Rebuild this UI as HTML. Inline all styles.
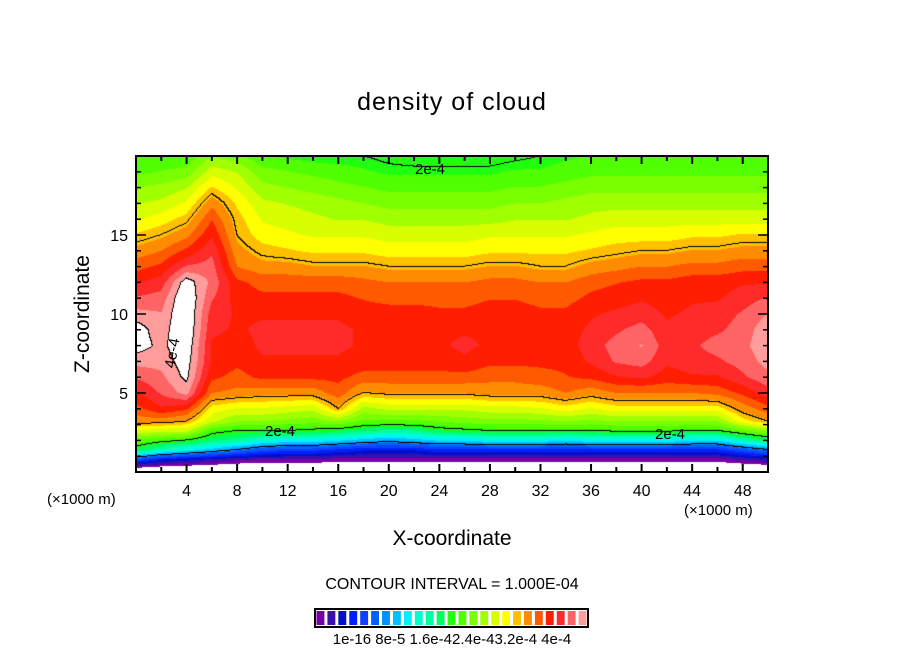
<!DOCTYPE html>
<html><head><meta charset="utf-8"><style>
body{margin:0;background:#fff;}
#wrap{position:relative;width:904px;height:654px;font-family:"Liberation Sans",sans-serif;color:#000;overflow:hidden}
.t{position:absolute;white-space:nowrap}
</style></head><body>
<div id="wrap">
<div class="t" style="left:0;width:904px;text-align:center;top:88px;font-size:25px;letter-spacing:1px">density of cloud</div>
<canvas id="cv" width="632" height="316" style="position:absolute;left:136px;top:156px"></canvas>
<svg id="ax" width="904" height="654" style="position:absolute;left:0;top:0"></svg>
<div class="t" style="left:-5px;top:300px;width:180px;text-align:center;font-size:21px;transform:rotate(-90deg);transform-origin:90px 14px">Z-coordinate</div>
<div class="t" style="left:0;width:904px;text-align:center;top:527px;font-size:21px">X-coordinate</div>
<div class="t" style="left:47px;top:491px;font-size:15px">(×1000 m)</div>
<div class="t" style="left:684px;top:502px;font-size:15px">(×1000 m)</div>
<div class="t" style="left:0;width:904px;text-align:center;top:576px;font-size:16px">CONTOUR INTERVAL = 1.000E-04</div>
<div class="t" style="left:0;width:904px;text-align:center;top:631px;font-size:15px">1e-16 8e-5 1.6e-42.4e-43.2e-4 4e-4</div>
</div>
<script>
const xs=[0,2,4,6,8,10,12,14,16,18,20,22,24,26,28,30,32,34,36,38,40,42,44,46,48,50];
const zs=[20,19,18,17,16,15,14,13,12,11,10,9,8,7,6,5,4,3.2,2.6,2,1.4,0.8,0];
// values in units of 1e-5, one array per x column, top to bottom
const c00=[21,22,24,25.5,27,29,31,33,35,37,39,41,41,39,37,35,33,31,27,22,19,8,-4];
const c02=[21,22.5,24.5,26,28,30,32,34,36,37.5,38.5,39,39.5,39,38,37,35,31,26,21,16,5,-4];
const c04=[21,23,25.5,27.5,29.5,31.5,34,37,41,42,42,42,41.5,41,40.5,39,34,30,26,20,14,4,-4];
const c06=[24,26.5,29,31.5,33.5,35,36.5,37.5,38,37,36,35.5,35,35,34,32,28,26,21,18,12,3,-4];
const c08=[23,25.5,27,28.5,29.5,30,31,32,34,34.5,35,35,34.5,34,33,31.5,27,24,20,17,10,2,-4];
const c10=[21,23,24.5,26,27,28,29.5,31,33,34,35,35.5,35.5,35,34,31,27,24,20,15,8,1.5,-4];
const c12=[20.5,22.5,24,25.5,26.5,27.5,29,31,33,34,35,35.5,35.5,35,34,31,26.5,23.5,20,14,7,1.5,-4];
const c14=[20,22,23.5,25,26,27,28.5,30.5,33,34,35,35.5,35.5,35,34,31,26,23,19.5,14,7,1.5,-4];
const c16=[20,21.5,23,24.5,25.5,27,28.5,30.5,33,34,35,35.5,35.5,35,34,33,30,24,19,13,6,1,-4];
const c18=[20,21,22.5,24,25.5,27,28.5,30.5,32.5,33.5,34.5,35,35,34.5,33,30,25,22,18,12,5,1,-4];
const c20=[19.5,20.5,22,23.5,25,26.5,28,30,32,33,34.5,35,35,34.5,33,30.5,26,22,17,11,5,1,-4];
const c22=[19,20.5,22,23.5,25,26.5,28,30,32,33,34.5,35,35,34.5,33,30.5,26,22,17.5,12,5,1,-4];
const c24=[19,20.5,22,23.5,25,26.5,28,30,32,33,34,35,35,34.5,33,30.5,26,22.5,19,13,6,1,-4];
const c26=[19,20.5,22,23.5,25,26.5,28,30,32,33,34,35,35.5,35,33,30.5,26,23,19.5,13,6,1,-4];
const c28=[19,20.5,22,23.5,25,27,28.5,30.5,32.5,33.5,34.5,35,35,34,32.5,31,26.5,23.5,20,14,6,1,-4];
const c30=[19.5,21,22.5,24,25.5,27,28.5,30.5,32.5,33.5,34.5,35,35,34,32.5,31,26.5,23.5,20,14,6,1,-4];
const c32=[20,21,22.5,24,25.5,27,28.5,30,32,33,34,34.5,34.5,34,33,31,27,23.5,20,14,6,1,-4];
const c34=[20.5,21.5,23,24.5,25.5,27,28.5,30,32,33,34,34.5,34.5,34,33.5,32,28,24,20,13,6,1,-4];
const c36=[21,22,23.5,25,26,27.5,29,31,33,34,35,35.5,36,35.5,34,31,27,23.5,20,14,6,1,-4];
const c38=[21,22,23.5,25,26.5,28,29.5,31.5,33.5,34.5,35.5,36.5,37.5,37,35,32,28,24,20.5,14,6,1,-4];
const c40=[21,22,23.5,25,26.5,28,30,32,34,35,36,37.5,38.5,37.5,35.5,32,28,24,20.5,14,6,1,-4];
const c42=[21,22,23.5,25,26.5,28,30,32,34,34.5,35,35.5,36,35.5,34.5,32,28,24,20.5,14,6,1,-4];
const c44=[21,22,23.5,25,26.5,28.5,30.5,32.5,34.5,35,35.5,36,36.5,36,35,32,28,24,20,13,6,1,-4];
const c46=[21,22,23.5,25,26.5,28.5,30.5,32.5,34.5,35,36,36.5,37.5,36.5,35,32.5,28,24,20,13,6,1,-4];
const c48=[21,22,23.5,25,26.5,29,31,33,35,36,37,37.5,38,37.5,36.5,34,31,28,22,16,8,2,-4];
const c50=[21,22,23.5,25,26.5,29,31,33,35,37,38.5,39.5,39.5,39,38,36,33,30,24,18,10,3,-4];
const cols=[c00,c02,c04,c06,c08,c10,c12,c14,c16,c18,c20,c22,c24,c26,c28,c30,c32,c34,c36,c38,c40,c42,c44,c46,c48,c50];
const palette=['#7800a8','#3810b0','#0010c8','#0020ff','#1040ff','#0060ff','#0090ff','#00c0ff','#00f0ff','#00ffd0','#00ffa0','#00ff60','#20ff10','#50ff00','#78ff00','#a0ff00','#d8ff00','#ffff00','#ffc000','#ff8c00','#ff5a00','#ff1e00','#ff2a2a','#ff6464','#ff9c9c'];
const xTicks=[4,8,12,16,20,24,28,32,36,40,44,48];
const yTicks=[5,10,15];
const contourLevels=[10,20,30,40];
const step=1.6;

const PL=136,PT=156,PW=632,PH=316,X0=0,X1=50,Z0=0,Z1=20;
const sx=x=>PL+(x-X0)/(X1-X0)*PW;
const sy=z=>PT+PH-(z-Z0)/(Z1-Z0)*PH;

function val(x,z){
  let i=0;while(i<xs.length-2&&x>xs[i+1])i++;
  let j=0;while(j<zs.length-2&&z<zs[j+1])j++;
  const tx=(x-xs[i])/(xs[i+1]-xs[i]);
  const tz=(zs[j]-z)/(zs[j]-zs[j+1]);
  const a=cols[i][j],b=cols[i+1][j],c=cols[i][j+1],d=cols[i+1][j+1];
  return (a*(1-tx)+b*tx)*(1-tz)+(c*(1-tx)+d*tx)*tz;
}
function hex(h){return [parseInt(h.substr(1,2),16),parseInt(h.substr(3,2),16),parseInt(h.substr(5,2),16)];}
const pal=palette.map(hex);
const cv=document.getElementById('cv'),ctx=cv.getContext('2d');
const img=ctx.createImageData(PW,PH);
const V=new Float32Array(PW*PH);
for(let py=0;py<PH;py++)for(let px=0;px<PW;px++){
  V[py*PW+px]=val((px+0.5)/PW*(X1-X0)+X0,Z1-(py+0.5)/PH*(Z1-Z0));
}
function lvl(v){let k=-1;for(let i=0;i<contourLevels.length;i++)if(v>=contourLevels[i])k=i;return k;}
for(let py=0;py<PH;py++)for(let px=0;px<PW;px++){
  const v=V[py*PW+px];let c=[255,255,255];
  if(v>0){const k=Math.floor(v/step);if(k<palette.length)c=pal[k];}
  const l=lvl(v);
  let edge=false;
  if(px<PW-1&&lvl(V[py*PW+px+1])!==l)edge=true;
  if(py<PH-1&&lvl(V[(py+1)*PW+px])!==l)edge=true;
  if(edge)c=[0,0,0];
  const o=(py*PW+px)*4;img.data[o]=c[0];img.data[o+1]=c[1];img.data[o+2]=c[2];img.data[o+3]=255;
}
ctx.putImageData(img,0,0);

const NS='http://www.w3.org/2000/svg',svg=document.getElementById('ax');
function el(t,a,txt){const e=document.createElementNS(NS,t);for(const k in a)e.setAttribute(k,a[k]);if(txt!==undefined)e.textContent=txt;svg.appendChild(e);return e;}
let r=el('rect',{x:PL,y:PT,width:PW,height:PH,fill:'none',stroke:'#000','stroke-width':2});


for(let x=2;x<50;x+=2){
  const L=(x%4===0)?8:5;
  let t=el('line',{x1:sx(x),x2:sx(x),y1:PT+PH,y2:PT+PH-L,stroke:'#000','stroke-width':2});
  
  
  let t2=el('line',{x1:sx(x),x2:sx(x),y1:PT,y2:PT+L,stroke:'#000','stroke-width':2});
  
  
}
xTicks.forEach(x=>{
  const t=el('text',{x:sx(x),y:496,'text-anchor':'middle','font-size':16,'font-family':'Liberation Sans, sans-serif'},String(x));
  
  
});
for(let z=1;z<20;z++){
  const L=(z%5===0)?10:5;
  let t=el('line',{x1:PL,x2:PL+L,y1:sy(z),y2:sy(z),stroke:'#000','stroke-width':1.5});
  
  
  let t2=el('line',{x1:PL+PW,x2:PL+PW-L,y1:sy(z),y2:sy(z),stroke:'#000','stroke-width':1.5});
  
  
}
yTicks.forEach(z=>{
  const t=el('text',{x:128,y:sy(z)+6,'text-anchor':'end','font-size':16,'font-family':'Liberation Sans, sans-serif'},String(z));
  
  
});
[[430,174,0,'2e-4'],[280,436,0,'2e-4'],[670,439,0,'2e-4'],[177,354,-80,'4e-4']].forEach(a=>{
  const t=el('text',{x:a[0],y:a[1],'text-anchor':'middle','font-size':15,'font-family':'Liberation Sans, sans-serif',transform:'rotate('+a[2]+' '+a[0]+' '+a[1]+')'},a[3]);
  
  
});
const CBX=315,CBW=273,CBY=609,CBH=18,bw=CBW/palette.length;
palette.forEach((c,i)=>{
  const b=el('rect',{x:CBX+i*bw+1.5,y:CBY+2,width:bw-3,height:CBH-4,fill:c});
  
  
});
const cb=el('rect',{x:CBX,y:CBY,width:CBW,height:CBH,fill:'none',stroke:'#000','stroke-width':2});


</script>
</body></html>
